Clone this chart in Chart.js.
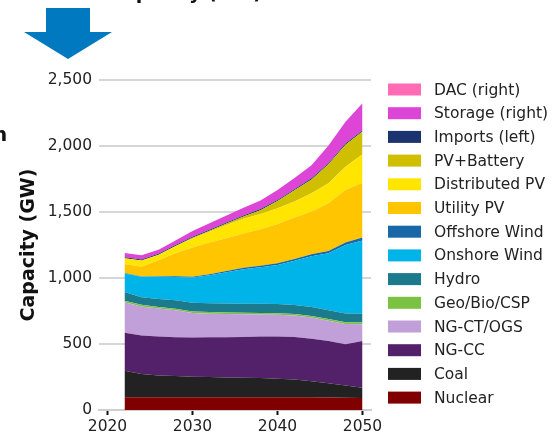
<!DOCTYPE html>
<html>
<head>
<meta charset="utf-8">
<script src="https://cdn.jsdelivr.net/npm/chart.js@4/dist/chart.umd.min.js"></script>
<style>
  html, body { margin: 0; padding: 0; background: #ffffff; }
  #wrap { width: 554px; height: 438px; position: relative; }
</style>
</head>
<body>
<div id="wrap"><canvas id="cap" width="554" height="438"></canvas></div>
<script>
// Installed capacity by technology (GW), two-year steps
const years = [2022, 2024, 2026, 2028, 2030, 2032, 2034, 2036, 2038, 2040, 2042, 2044, 2046, 2048, 2050];

const nuclear   = [96, 96, 96, 96, 96, 96, 96, 96, 96, 96, 96, 96, 95, 93, 90];
const coal      = [202, 176, 166, 162, 156, 154, 151, 149, 146, 141, 136, 122, 107, 92, 78];
const ngCC      = [288, 293, 294, 294, 297, 301, 305, 308, 314, 320, 321, 322, 321, 313, 355];
const ngCT      = [230, 220, 212, 203, 186, 179, 175, 172, 167, 164, 162, 160, 154, 154, 127];
const geoBioCsp = [12, 12, 12, 12, 12, 12, 12, 12, 12, 12, 12, 12, 12, 12, 12];
const hydro     = [66, 58, 60, 64, 66, 66, 67, 68, 69, 70, 69, 68, 67, 67, 68];
const onshore   = [141, 155, 170, 177, 190, 212, 237, 261, 277, 295, 334, 385, 432, 519, 555];
const offshore  = [2, 2, 4, 5, 6, 8, 10, 11, 12, 13, 14, 15, 17, 18, 22];
const utilityPV = [69, 74, 121, 174, 223, 240, 248, 261, 276, 298, 314, 322, 361, 399, 415];
const distPV    = [43, 47, 40, 53, 68, 82, 100, 110, 115, 119, 122, 140, 151, 176, 215];
const pvBattery = [0, 0, 1, 2, 5, 8, 12, 18, 30, 55, 84, 105, 144, 167, 173];
const imports   = [8, 8, 8, 8, 8, 8, 8, 8, 8, 8, 8, 8, 8, 8, 8];
const storage   = [32, 31, 30, 34, 44, 48, 52, 58, 66, 75, 85, 100, 135, 165, 205];
const dac       = [0, 0, 0, 0, 0, 0, 0, 0, 0, 0, 0, 0, 0, 0, 0];

const xTicks = [2020, 2030, 2040, 2050];
const yTicks = [0, 500, 1000, 1500, 2000, 2500];

// Stack order from the bottom up
const series = [
  { label: 'Nuclear',         values: nuclear,   color: '#800000' },
  { label: 'Coal',            values: coal,      color: '#222222' },
  { label: 'NG-CC',           values: ngCC,      color: '#532169' },
  { label: 'NG-CT/OGS',       values: ngCT,      color: '#c19fd9' },
  { label: 'Geo/Bio/CSP',     values: geoBioCsp, color: '#7cc242' },
  { label: 'Hydro',           values: hydro,     color: '#1b7b8c' },
  { label: 'Onshore Wind',    values: onshore,   color: '#00b4ea' },
  { label: 'Offshore Wind',   values: offshore,  color: '#1868a8' },
  { label: 'Utility PV',      values: utilityPV, color: '#ffc500' },
  { label: 'Distributed PV',  values: distPV,    color: '#ffe500' },
  { label: 'PV+Battery',      values: pvBattery, color: '#cfbf00' },
  { label: 'Imports (left)',  values: imports,   color: '#1b3470' },
  { label: 'Storage (right)', values: storage,   color: '#dc45d5' },
  { label: 'DAC (right)',     values: dac,       color: '#ff6cb4' }
];

const datasets = series.map((s, i) => ({
  label: s.label,
  data: years.map((yr, j) => ({ x: yr, y: s.values[j] })),
  backgroundColor: s.color,
  borderColor: s.color,
  borderWidth: 0,
  pointRadius: 0,
  tension: 0,
  fill: i === 0 ? 'origin' : '-1'
}));

const FONT = 'DejaVu Sans';
Chart.defaults.font.family = FONT;
Chart.defaults.color = '#222222';

// Right-hand legend, top entry is the top of the stack
const sideLegend = {
  id: 'sideLegend',
  afterDraw(chart) {
    const ctx = chart.ctx;
    const ds = chart.data.datasets.slice().reverse();
    ctx.save();
    ctx.font = '15.5px ' + FONT;
    ctx.textBaseline = 'middle';
    ctx.textAlign = 'left';
    ds.forEach((d, i) => {
      const cy = 89.5 + i * 23.7;
      ctx.fillStyle = d.backgroundColor;
      ctx.fillRect(388, cy - 6, 33, 12);
      ctx.fillStyle = '#222222';
      ctx.fillText(d.label, 434, cy + 1);
    });
    ctx.restore();
  }
};

// Heading text running off the top and left edges, plus the down arrow
const frame = {
  id: 'frame',
  afterDraw(chart) {
    const ctx = chart.ctx;
    ctx.save();
    ctx.fillStyle = '#111111';
    ctx.textBaseline = 'alphabetic';
    ctx.textAlign = 'left';
    ctx.font = 'bold 19px ' + FONT;
    ctx.fillText('Capacity (GW)', 109, -1);
    ctx.font = 'bold 20px ' + FONT;
    ctx.fillText('n', -7, 141);

    ctx.fillStyle = '#0079c1';
    ctx.beginPath();
    ctx.moveTo(46, 8);
    ctx.lineTo(90, 8);
    ctx.lineTo(90, 32);
    ctx.lineTo(112, 32);
    ctx.lineTo(68, 59);
    ctx.lineTo(24, 32);
    ctx.lineTo(46, 32);
    ctx.closePath();
    ctx.fill();
    ctx.restore();
  }
};

new Chart(document.getElementById('cap'), {
  type: 'line',
  data: { datasets },
  options: {
    responsive: false,
    animation: false,
    events: [],
    layout: { padding: { left: 0, top: 80, right: 183, bottom: 0 } },
    plugins: {
      legend: { display: false },
      tooltip: { enabled: false }
    },
    scales: {
      x: {
        type: 'linear',
        min: 2019,
        max: 2051,
        afterBuildTicks(scale) { scale.ticks = xTicks.map(v => ({ value: v })); },
        afterFit(scale) { scale.height = 28; },
        ticks: {
          font: { size: 15.5 },
          color: '#222222',
          padding: 3,
          maxRotation: 0,
          autoSkip: false,
          callback: v => String(v)
        },
        grid: {
          drawOnChartArea: false,
          drawTicks: true,
          tickLength: 5,
          tickColor: '#111111',
          tickWidth: 2
        },
        border: { display: true, color: '#cfcfcf', width: 2 }
      },
      y: {
        stacked: true,
        min: 0,
        max: 2500,
        afterBuildTicks(scale) { scale.ticks = yTicks.map(v => ({ value: v })); },
        afterFit(scale) { scale.width = 99; },
        ticks: {
          font: { size: 15.5 },
          color: '#222222',
          padding: 7,
          callback: v => v.toLocaleString('en-US')
        },
        grid: {
          color: '#d6d6d6',
          lineWidth: 2,
          drawTicks: false
        },
        border: { display: false },
        title: {
          display: true,
          text: 'Capacity (GW)',
          font: { size: 19, weight: 'bold' },
          color: '#111111',
          padding: { top: 18, bottom: 0 }
        }
      }
    }
  },
  plugins: [sideLegend, frame]
});
</script>
</body>
</html>
